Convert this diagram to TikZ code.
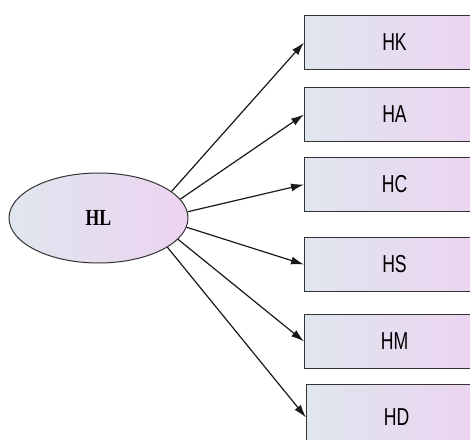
\documentclass[tikz,border=0pt]{standalone}
\usepackage{fontspec}
\usetikzlibrary{shapes.geometric,arrows.meta}
\newfontfamily\boxfont{Liberation Sans}
\newfontfamily\hlfont{Liberation Serif}
\definecolor{fillL}{HTML}{DFE6EE}
\definecolor{fillR}{HTML}{EDD3F1}
\tikzset{
  itembox/.style={draw=black!80, line width=1pt, left color=fillL, right color=fillR,
    minimum width=180pt, minimum height=54pt, anchor=north west, inner sep=0pt,
    font=\boxfont\fontsize{24.5}{24.5}\selectfont},
  latent/.style={ellipse, draw=black!80, line width=1pt, left color=fillL, right color=fillR,
    minimum width=179pt, minimum height=90pt, inner sep=0pt,
    font=\hlfont\bfseries\fontsize{23}{23}\selectfont},
  link/.style={-{Latex[length=13pt,width=8pt]}, line width=1.2pt, black!90}
}
\begin{document}
\begin{tikzpicture}[x=1pt,y=-1pt]
\useasboundingbox (0,0) rectangle (470,439);
\clip (0,0) rectangle (470,439);
\node[latent] (HL) at (98.5,218) {\scalebox{0.77}[1]{HL}};
\node[itembox] (HK) at (304,15) {\raisebox{-2pt}{\scalebox{0.72}[1]{HK}}};
\node[itembox] (HA) at (304,87) {\raisebox{-2pt}{\scalebox{0.72}[1]{HA}}};
\node[itembox] (HC) at (304,157) {\raisebox{-2pt}{\scalebox{0.72}[1]{HC}}};
\node[itembox] (HS) at (304,237) {\raisebox{-2pt}{\scalebox{0.72}[1]{HS}}};
\node[itembox] (HM) at (304,314) {\raisebox{-2pt}{\scalebox{0.72}[1]{HM}}};
\node[itembox, minimum height=66pt] (HD) at (306,384) {\scalebox{0.72}[1]{HD}};
\draw[link] (HL.20) -- (HK.west);
\draw[link] (HL.13) -- (HA.west);
\draw[link] (HL.4.5) -- (HC.west);
\draw[link] (HL.-6.5) -- (HS.west);
\draw[link] (HL.-15) -- (HM.west);
\draw[link] (HL.-23) -- (HD.west);
\end{tikzpicture}
\end{document}
